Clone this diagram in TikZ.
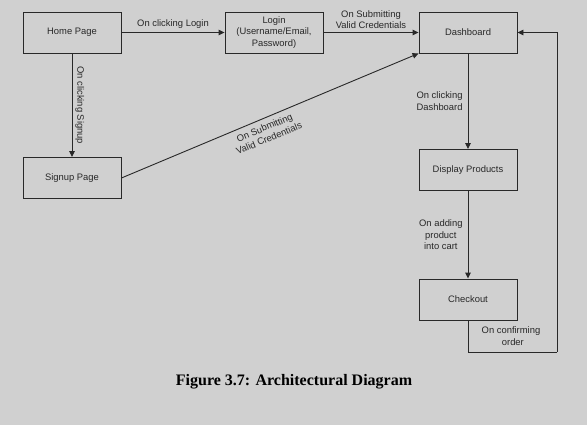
\documentclass[tikz,border=0pt]{standalone}
\usepackage{fontspec}
\setmainfont{Liberation Sans}
\newfontfamily\capfont{Liberation Serif}
\usetikzlibrary{arrows.meta}
\definecolor{bg}{RGB}{208,208,208}
\definecolor{ln}{RGB}{40,40,40}
\definecolor{tx}{RGB}{40,40,40}
\begin{document}
\begin{tikzpicture}[x=1pt,y=-1pt,
  box/.style={draw=ln,line width=0.9pt,minimum width=98pt,minimum height=41pt,inner sep=0pt,align=center,font=\fontsize{9.4}{11.3}\selectfont,text=tx},
  lbl/.style={align=center,font=\fontsize{9.4}{11.3}\selectfont,text=tx,inner sep=0pt},
  conn/.style={draw=ln,line width=0.9pt,-{Triangle[length=6pt,width=5.5pt]}},
  plain/.style={draw=ln,line width=0.9pt}]
\fill[bg] (0,0) rectangle (587,425);
\useasboundingbox (0,0) rectangle (587,425);
\node[box] (home) at (72,32.5) {Home Page};
\node[box] (login) at (274,32.5) {Login\\(Username/Email,\\Password)};
\node[box] (dash) at (468,32.5) {Dashboard};
\node[box] (signup) at (72,178) {Signup Page};
\node[box] (disp) at (468,170) {Display Products};
\node[box] (check) at (468,299.5) {Checkout};
\coordinate (c1) at (468,352);
\coordinate (c2) at (557,352);
\coordinate (c3) at (557,32.5);
\draw[conn] (home) -- node[lbl,above=4pt] {On clicking Login} (login);
\draw[conn] (login) -- node[lbl,above=3pt] {On Submitting\\Valid Credentials} (dash);
\draw[conn] (home) -- node[lbl,right=3pt,rotate=-90,anchor=south] {On clicking Signup} (signup);
\draw[conn] (signup.east) -- node[lbl,sloped,below=5pt,pos=0.47] {On Submitting\\Valid Credentials} (dash.south west);
\draw[conn] (dash) -- node[lbl,left=5pt] {On clicking\\Dashboard} (disp);
\draw[conn] (disp) -- node[lbl,left=5pt] {On adding\\product\\into cart} (check);
\draw[plain] (check.south) -- (c1) -- (c2);
\draw[conn] (c2) -- (c3) -- (dash.east);
\node[lbl] (conf) at (511,336) {On confirming\\\hspace*{0.4em}order};
\node[font=\capfont\bfseries\fontsize{16}{18}\selectfont,text=black] (cap) at (294,382) {Figure 3.7: Architectural Diagram};
\end{tikzpicture}
\end{document}
